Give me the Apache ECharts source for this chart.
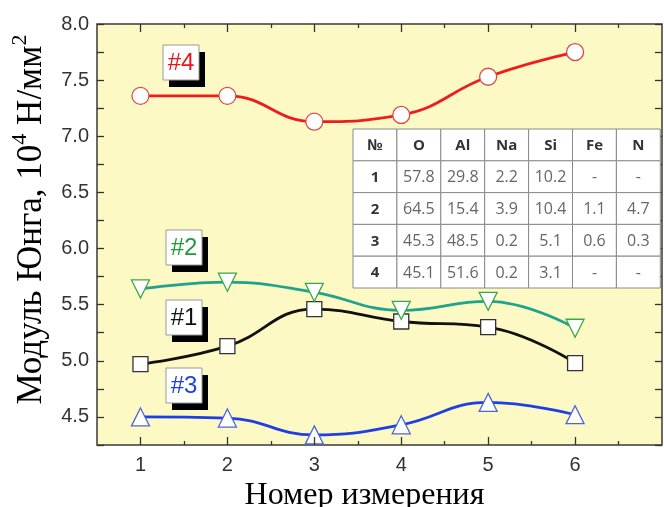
<!DOCTYPE html>
<html><head><meta charset="utf-8">
<script src="https://cdn.jsdelivr.net/npm/echarts@6/dist/echarts.min.js"></script>
<style>html,body{margin:0;padding:0;background:#fff}#c{width:664px;height:507px}</style>
</head><body><div id="c"></div>
<script>
// ---- data ----
const measurements = [1, 2, 3, 4, 5, 6];
const sample1 = [4.97, 5.13, 5.46, 5.35, 5.30, 4.98];
const sample2 = [5.64, 5.70, 5.61, 5.45, 5.53, 5.29];
const sample3 = [4.50, 4.49, 4.34, 4.43, 4.63, 4.52];
const sample4 = [7.36, 7.36, 7.13, 7.19, 7.53, 7.75];
const seriesNames = ['#1', '#2', '#3', '#4'];
const xTickValues = [1, 2, 3, 4, 5, 6];
const xMinorTickValues = [1.5, 2.5, 3.5, 4.5, 5.5, 6.5];
const yTickValues = [4.5, 5.0, 5.5, 6.0, 6.5, 7.0, 7.5, 8.0];
const tableHeader = ['№', 'O', 'Al', 'Na', 'Si', 'Fe', 'N'];
const tableRows = [
  ['1', '57.8', '29.8', '2.2', '10.2', '-', '-'],
  ['2', '64.5', '15.4', '3.9', '10.4', '1.1', '4.7'],
  ['3', '45.3', '48.5', '0.2', '5.1', '0.6', '0.3'],
  ['4', '45.1', '51.6', '0.2', '3.1', '-', '-']
];
const xAxisTitle = 'Номер измерения';

// ---- layout ----
const G = {left: 97, top: 24, right: 2, bottom: 62, outerBoundsMode: 'none', containLabel: false};
const pairs = arr => measurements.map((m, i) => [m, arr[i]]);
const tickFont = {fontFamily: 'Liberation Sans, Arial', fontSize: 20, color: '#333'};

// ticks are drawn pointing into the plot by shifting each axis inward by the tick length
function xAx(gridIndex, pos, ticks, len, labels) {
  return {
    type: 'value', gridIndex, position: pos, min: 0.5, max: 7, z: 5, offset: -len,
    axisLine: {show: false}, splitLine: {show: false},
    axisTick: {show: true, inside: false, length: len, customValues: ticks, lineStyle: {color: '#333', width: 1.3}},
    axisLabel: labels ? Object.assign({show: true, margin: 10 + len, customValues: xTickValues, formatter: v => String(v)}, tickFont) : {show: false}
  };
}
function yAx(gridIndex, pos, len, labels, ticks) {
  return {
    type: 'value', gridIndex, position: pos, min: 4.25, max: 8, interval: 0.25, z: 5, offset: -len,
    axisLine: {show: false}, splitLine: {show: false},
    axisTick: {show: len > 0, inside: false, length: len, customValues: ticks, lineStyle: {color: '#333', width: 1.3}},
    axisLabel: labels ? Object.assign({show: true, margin: 8 + len, customValues: yTickValues, formatter: v => v.toFixed(1)}, tickFont) : {show: false}
  };
}

const colors = {
  '#1': {line: '#111111', mark: '#333333', text: '#111111'},
  '#2': {line: '#1fa38a', mark: '#3aa944', text: '#1d9a3a'},
  '#3': {line: '#1e3fe6', mark: '#4a66dd', text: '#1e3fdc'},
  '#4': {line: '#ee1c1c', mark: '#e04848', text: '#e8161b'}
};
const symbols = {'#1': ['rect', 15, 0], '#2': ['triangle', 18, 180], '#3': ['triangle', 18, 0], '#4': ['circle', 17, 0]};
const seriesData = {'#1': sample1, '#2': sample2, '#3': sample3, '#4': sample4};

const series = seriesNames.map(n => ({
  type: 'line', name: n, xAxisIndex: 0, yAxisIndex: 0, data: pairs(seriesData[n]),
  smooth: 0.45, z: 3,
  lineStyle: {color: colors[n].line, width: 2.8},
  symbol: symbols[n][0], symbolSize: symbols[n][1], symbolRotate: symbols[n][2],
  itemStyle: {color: '#ffffff', borderColor: colors[n].mark, borderWidth: 1.3},
  emphasis: {disabled: true}
}));

// label boxes
const labelPos = {'#4': [163, 45], '#2': [166, 230], '#1': [166, 300], '#3': [166, 368]};
const graphics = [];
seriesNames.forEach(n => {
  const [x, y] = labelPos[n];
  graphics.push({type: 'rect', z: 20, shape: {x: x + 6, y: y + 7, width: 36, height: 35}, style: {fill: '#000'}});
  graphics.push({type: 'rect', z: 21, shape: {x: x, y: y, width: 36, height: 35}, style: {fill: '#fff', stroke: '#999', lineWidth: 1}});
  graphics.push({type: 'text', z: 22, x: x + 18, y: y + 18, style: {text: n, fill: colors[n].text, font: '24px "Liberation Sans", Arial', align: 'center', verticalAlign: 'middle'}});
});

// table
const tX = 353, tY = 129, cw = 43.9, rh = 31.8;
const allRows = [tableHeader].concat(tableRows);
allRows.forEach((row, r) => {
  row.forEach((cell, c) => {
    const bold = r === 0 || c === 0;
    graphics.push({type: 'rect', z: 30, shape: {x: tX + c * cw, y: tY + r * rh, width: cw, height: rh},
      style: {fill: '#fff', stroke: '#8a8a8a', lineWidth: 1}});
    graphics.push({type: 'text', z: 31, x: tX + c * cw + cw / 2, y: tY + r * rh + rh / 2 + 1,
      style: {text: cell, fill: bold ? '#333' : '#666', font: (bold ? 'bold 15px ' : '16px ') + '"Open Sans", Arial', align: 'center', verticalAlign: 'middle'}});
  });
});

const option = {
  animation: false,
  backgroundColor: '#fff',
  grid: [
    Object.assign({show: true, backgroundColor: '#fdf9c4', borderColor: '#3a3a3a', borderWidth: 1.5, z: 0}, G),
    Object.assign({show: false}, G)
  ],
  xAxis: [
    Object.assign(xAx(0, 'bottom', xTickValues, 8, true), {name: xAxisTitle, nameLocation: 'middle', nameGap: 39,
      nameTextStyle: {fontFamily: 'Liberation Serif, Times New Roman', fontSize: 32, color: '#000', padding: [0, 30, 0, 0]}}),
    xAx(0, 'top', xTickValues, 8, false),
    xAx(1, 'bottom', xMinorTickValues, 4, false),
    xAx(1, 'top', xMinorTickValues, 4, false)
  ],
  yAxis: [
    Object.assign(yAx(0, 'left', 7, true, undefined), {
      name: '{a|Модуль Юнга, 10}{s|4}{a| Н/мм}{s|2}', nameLocation: 'middle', nameRotate: 90, nameGap: 55,
      nameTextStyle: {padding: [0, 0, 0, 30], rich: {
        a: {fontFamily: 'Liberation Serif, Times New Roman', fontSize: 35, color: '#000', lineHeight: 40, verticalAlign: 'bottom'},
        s: {fontFamily: 'Liberation Serif, Times New Roman', fontSize: 22, color: '#000', lineHeight: 40, verticalAlign: 'top'}
      }}
    }),
    yAx(0, 'right', 7, false, undefined),
    yAx(1, 'left', 0, false, []),
    yAx(1, 'right', 0, false, [])
  ],
  series: series,
  graphic: {elements: graphics}
};
const chart = echarts.init(document.getElementById('c'), null, {renderer: 'canvas'});
chart.setOption(option);
</script></body></html>
